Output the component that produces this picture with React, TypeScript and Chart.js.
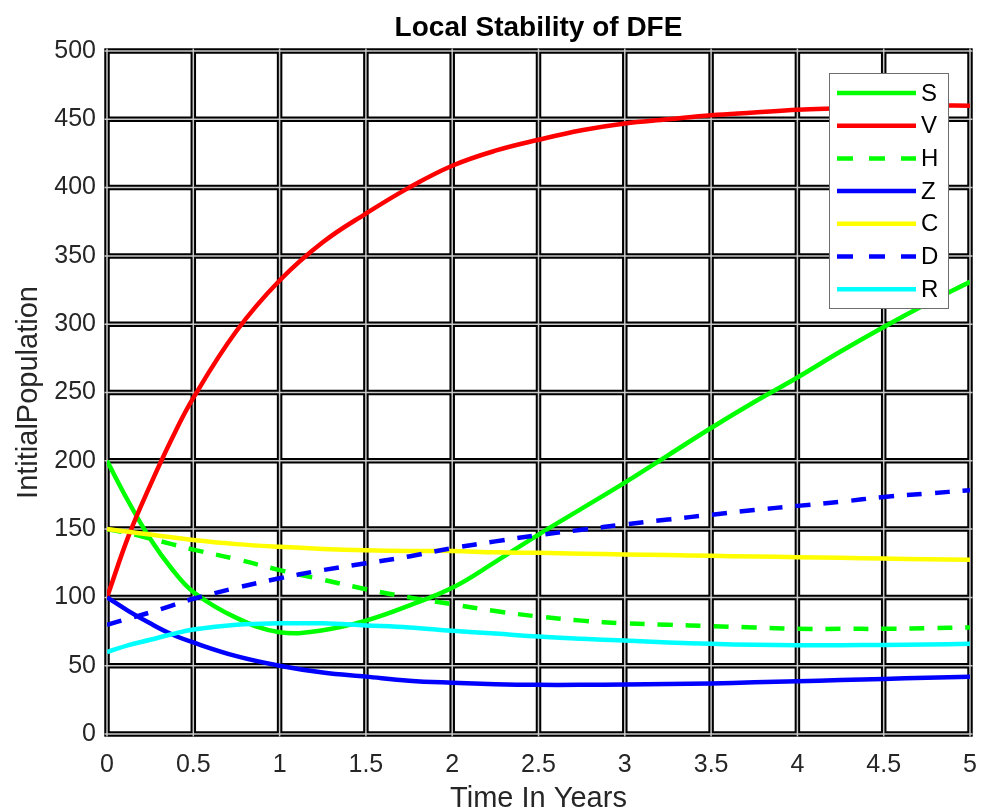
import { useEffect, useRef } from 'react';
import { Chart, registerables } from 'chart.js';

Chart.register(...registerables);

// ---- data ----
const times = [0, 0.125, 0.25, 0.375, 0.5, 0.75, 1, 1.25, 1.5, 1.75, 2, 2.25, 2.5, 2.75, 3, 3.25, 3.5, 3.75, 4, 4.25, 4.5, 4.75, 5];
const S = [200, 170, 143, 121, 104, 85, 74.5, 76, 83, 94, 107, 126, 146, 165, 184, 204, 224, 243, 261, 280, 298, 315, 331];
const V = [100, 145, 182, 216, 246, 295, 332, 360, 381, 400, 416, 427, 435, 442, 447, 450, 453, 455, 457, 458, 459, 460, 460];
const H = [150, 147, 143, 139, 135, 128, 120, 113, 106, 100, 95, 90, 86, 83, 81, 80, 79, 78, 77, 77, 77, 77.5, 78];
const Z = [100, 90, 81, 73, 67, 57, 50, 45, 42, 39, 37.5, 36.5, 36, 36, 36.3, 36.6, 37, 37.8, 38.6, 39.5, 40.3, 41.2, 42];
const C = [150, 148, 146, 144, 142, 139, 137, 135.5, 134.5, 134, 134, 133, 132.6, 132, 131.4, 131, 130.4, 130, 129.4, 129, 128.4, 128, 127.5];
const D = [80, 84.5, 89, 94, 99, 107, 114, 120, 125, 130, 136, 141, 145.6, 149.5, 153.4, 157, 160.5, 164, 167, 170, 173.5, 176, 178.5];
const R = [60, 65, 69, 73, 76.5, 80, 81, 81, 79.5, 78, 75.5, 73.5, 71.3, 69.7, 68.4, 67, 66, 65.3, 65, 65, 65.2, 65.5, 66];

const seriesLabels = ['S', 'V', 'H', 'Z', 'C', 'D', 'R'];
const seriesValues = [S, V, H, Z, C, D, R];
const seriesColors = ['#00ff00', '#ff0000', '#00ff00', '#0000ff', '#ffff00', '#0000ff', '#00ffff'];
const seriesDashed = [false, false, true, false, false, true, false];

const titleText = 'Local Stability of DFE';
const xTitle = 'Time In Years';
const yTitle = 'IntitialPopulation';

const FONT = '"Liberation Sans", Arial, Helvetica, sans-serif';

const gridPlugin = {
  id: 'doubleGrid',
  beforeDatasetsDraw(chart: any) {
    const { ctx, chartArea, scales } = chart;
    const { left, right, top, bottom } = chartArea;
    const xs = scales.x.ticks.map((t: any) => scales.x.getPixelForValue(t.value));
    const ys = scales.y.ticks.map((t: any) => scales.y.getPixelForValue(t.value));
    ctx.save();
    const ext = 2.5;
    const pass = (w: number, color: string) => {
      ctx.lineWidth = w;
      ctx.strokeStyle = color;
      ctx.beginPath();
      xs.forEach((px: number) => {
        ctx.moveTo(px, top - ext);
        ctx.lineTo(px, bottom + ext);
      });
      ys.forEach((py: number) => {
        ctx.moveTo(left - ext, py);
        ctx.lineTo(right + ext, py);
      });
      ctx.stroke();
    };
    pass(5.5, '#000000');
    pass(1.5, '#c8c8c8');
    ctx.restore();
  },
};

const decorPlugin = {
  id: 'decor',
  afterDraw(chart: any) {
    const { ctx, chartArea } = chart;
    const { left, right, top } = chartArea;
    ctx.save();
    // title
    ctx.fillStyle = '#000000';
    ctx.font = `bold 28px ${FONT}`;
    ctx.textAlign = 'center';
    ctx.textBaseline = 'alphabetic';
    ctx.fillText(titleText, (left + right) / 2, 36);

    // legend
    const boxW = 119;
    const boxH = 235;
    const bx = right - 22 - boxW;
    const by = top + 22;
    ctx.fillStyle = '#ffffff';
    ctx.fillRect(bx, by, boxW, boxH);
    ctx.lineWidth = 1;
    ctx.strokeStyle = '#6e6e6e';
    ctx.strokeRect(bx + 0.5, by + 0.5, boxW, boxH);
    const ds = chart.data.datasets;
    ds.forEach((d: any, i: number) => {
      const cy = by + 20 + i * 32.7;
      ctx.beginPath();
      ctx.lineWidth = 4.5;
      ctx.strokeStyle = d.borderColor;
      ctx.setLineDash(d.borderDash && d.borderDash.length ? [16, 16] : []);
      ctx.moveTo(bx + 8, cy);
      ctx.lineTo(bx + 87, cy);
      ctx.stroke();
      ctx.setLineDash([]);
      ctx.fillStyle = '#000000';
      ctx.font = `24px ${FONT}`;
      ctx.textAlign = 'left';
      ctx.textBaseline = 'middle';
      ctx.fillText(d.label, bx + 92, cy + 1);
    });
    ctx.restore();
  },
};

export default function App() {
  const ref = useRef<HTMLCanvasElement | null>(null);

  useEffect(() => {
    if (!ref.current) return;
    Chart.defaults.font.family = FONT;
    const datasets = seriesLabels.map((label, i) => ({
      label,
      data: times.map((t, k) => ({ x: t, y: seriesValues[i][k] })),
      borderColor: seriesColors[i],
      backgroundColor: seriesColors[i],
      borderWidth: 4.5,
      borderDash: seriesDashed[i] ? [15, 13] : [],
      pointRadius: 0,
      fill: false,
      tension: 0.4,
      order: seriesLabels.length - i,
    }));

    const chart = new Chart(ref.current, {
      type: 'line',
      data: { datasets },
      options: {
        responsive: false,
        animation: false,
        layout: { padding: { top: 51, right: 17, left: 0, bottom: 0 } },
        plugins: {
          legend: { display: false },
          title: { display: false },
          tooltip: { enabled: false },
        },
        scales: {
          x: {
            type: 'linear',
            min: 0,
            max: 5,
            ticks: {
              stepSize: 0.5,
              color: '#262626',
              font: { size: 25 },
              padding: 16,
              maxRotation: 0,
              callback: (v: any) => String(Math.round(Number(v) * 10) / 10),
            },
            grid: { display: false, drawTicks: false },
            border: { display: false },
            title: { display: true, text: xTitle, color: '#262626', font: { size: 29 }, padding: { top: 0, bottom: -6 } },
            afterFit(scale: any) {
              scale.height = 76;
              scale.paddingLeft = 0;
              scale.paddingRight = 0;
            },
          },
          y: {
            type: 'linear',
            min: 0,
            max: 500,
            ticks: { stepSize: 50, color: '#262626', font: { size: 25 }, padding: 11 },
            grid: { display: false, drawTicks: false },
            border: { display: false },
            title: { display: true, text: yTitle, color: '#262626', font: { size: 29 }, padding: { top: 12, bottom: 0 } },
            afterFit(scale: any) {
              scale.width = 107;
              scale.paddingTop = 0;
              scale.paddingBottom = 0;
            },
          },
        },
      },
      plugins: [gridPlugin, decorPlugin],
    });
    return () => chart.destroy();
  }, []);

  return (
    <div style={{ position: 'absolute', left: 0, top: 0, width: 987, height: 810, background: '#ffffff' }}>
      <canvas ref={ref} width={987} height={810} style={{ display: 'block' }} />
    </div>
  );
}
